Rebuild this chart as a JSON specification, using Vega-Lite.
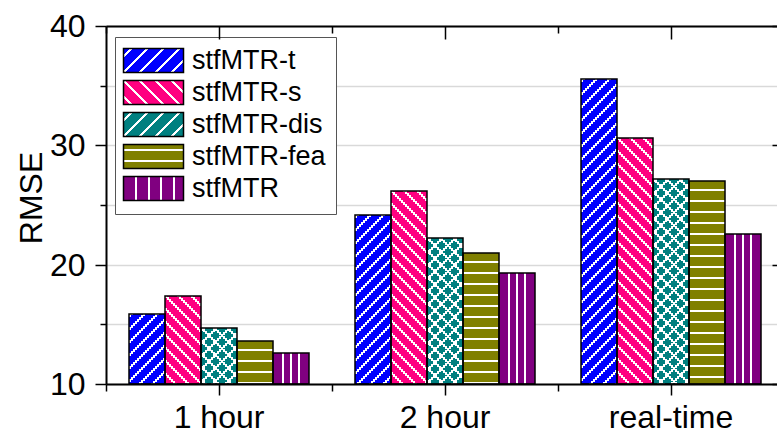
{
"$schema":"https://vega.github.io/schema/vega-lite/v6.json",
"width":671,"height":358,
"autosize":{"type":"none"},
"padding":{"left":106,"top":26,"right":0,"bottom":47},
"background":"#ffffff",
"config":{"view":{"stroke":null},"font":"Liberation Sans"},
"data":{"values":[
{"cat":"1 hour","model":"stfMTR-t","value":15.9},
{"cat":"1 hour","model":"stfMTR-s","value":17.4},
{"cat":"1 hour","model":"stfMTR-dis","value":14.7},
{"cat":"1 hour","model":"stfMTR-fea","value":13.6},
{"cat":"1 hour","model":"stfMTR","value":12.6},
{"cat":"2 hour","model":"stfMTR-t","value":24.2},
{"cat":"2 hour","model":"stfMTR-s","value":26.2},
{"cat":"2 hour","model":"stfMTR-dis","value":22.2},
{"cat":"2 hour","model":"stfMTR-fea","value":21.0},
{"cat":"2 hour","model":"stfMTR","value":19.3},
{"cat":"real-time","model":"stfMTR-t","value":35.6},
{"cat":"real-time","model":"stfMTR-s","value":30.6},
{"cat":"real-time","model":"stfMTR-dis","value":27.2},
{"cat":"real-time","model":"stfMTR-fea","value":27.0},
{"cat":"real-time","model":"stfMTR","value":22.6}
]},
"encoding":{
 "x":{"field":"cat","type":"nominal","scale":{"range":[0,678],"paddingInner":0,"paddingOuter":0,"round":true},"axis":null},
 "y":{"field":"value","type":"quantitative","scale":{"domain":[10,40],"zero":false,"nice":false,"round":true},"axis":null},
 "y2":{"datum":10}
},
"layer":[
{"mark":{"type":"bar"},
 "encoding":{
  "x":{"field":"cat","type":"nominal","axis":{"orient":"bottom","title":null,"labelAngle":0,"labelFontSize":32,"labelColor":"#000000","labelPadding":7,"tickSize":11,"tickWidth":1.5,"tickColor":"#000000","domainColor":"#000000","domainWidth":2,"grid":false,"zindex":1}},
  "y":{"field":"value","type":"quantitative","axis":{"orient":"left","values":[10,15,20,25,30,35,40],"title":"RMSE","titleFontSize":32,"titleFontWeight":"normal","titleColor":"#000000","titleX":-57.5,"titleY":171.5,"labelFontSize":32,"labelColor":"#000000","labelPadding":10,"labelExpr":"datum.value % 10 === 0 ? datum.label : ''","tickSize":{"condition":{"test":"datum.value % 10 !== 0","value":6},"value":11},"tickWidth":1.5,"tickColor":"#000000","domainColor":"#000000","domainWidth":2,"grid":false,"zindex":1}},
  "xOffset":{"field":"model","type":"nominal","scale":{"domain":["stfMTR-t","stfMTR-s","stfMTR-dis","stfMTR-fea","stfMTR"],"paddingInner":0,"paddingOuter":0.6,"align":0.5,"round":true}},
  "fill":{"field":"model","type":"nominal","scale":{"domain":["stfMTR","stfMTR-fea","stfMTR-dis","stfMTR-s","stfMTR-t"],"range":["#800080","#808000","#008080","#ff0080","#0000ff"]},"legend":null}
 }
},
{"transform":[{"filter":{"field":"model","oneOf":["stfMTR-t","stfMTR-dis"]}}],"mark":{"type":"rule","color":"#ffffff","strokeWidth":2,"strokeDash":[3,10],"strokeDashOffset":0},"encoding":{"xOffset":{"field":"model","type":"nominal","scale":{"domain":["stfMTR-t","stfMTR-s","stfMTR-dis","stfMTR-fea","stfMTR"],"paddingInner":0,"paddingOuter":0.6,"round":true,"align":0.130435}}}},
{"transform":[{"filter":{"field":"model","oneOf":["stfMTR-t","stfMTR-dis"]}}],"mark":{"type":"rule","color":"#ffffff","strokeWidth":2,"strokeDash":[3,10],"strokeDashOffset":2},"encoding":{"xOffset":{"field":"model","type":"nominal","scale":{"domain":["stfMTR-t","stfMTR-s","stfMTR-dis","stfMTR-fea","stfMTR"],"paddingInner":0,"paddingOuter":0.6,"round":true,"align":0.173913}}}},
{"transform":[{"filter":{"field":"model","oneOf":["stfMTR-t","stfMTR-dis"]}}],"mark":{"type":"rule","color":"#ffffff","strokeWidth":2,"strokeDash":[3,10],"strokeDashOffset":4},"encoding":{"xOffset":{"field":"model","type":"nominal","scale":{"domain":["stfMTR-t","stfMTR-s","stfMTR-dis","stfMTR-fea","stfMTR"],"paddingInner":0,"paddingOuter":0.6,"round":true,"align":0.217391}}}},
{"transform":[{"filter":{"field":"model","oneOf":["stfMTR-t","stfMTR-dis"]}}],"mark":{"type":"rule","color":"#ffffff","strokeWidth":2,"strokeDash":[3,10],"strokeDashOffset":6},"encoding":{"xOffset":{"field":"model","type":"nominal","scale":{"domain":["stfMTR-t","stfMTR-s","stfMTR-dis","stfMTR-fea","stfMTR"],"paddingInner":0,"paddingOuter":0.6,"round":true,"align":0.26087}}}},
{"transform":[{"filter":{"field":"model","oneOf":["stfMTR-t","stfMTR-dis"]}}],"mark":{"type":"rule","color":"#ffffff","strokeWidth":2,"strokeDash":[3,10],"strokeDashOffset":8},"encoding":{"xOffset":{"field":"model","type":"nominal","scale":{"domain":["stfMTR-t","stfMTR-s","stfMTR-dis","stfMTR-fea","stfMTR"],"paddingInner":0,"paddingOuter":0.6,"round":true,"align":0.304348}}}},
{"transform":[{"filter":{"field":"model","oneOf":["stfMTR-t","stfMTR-dis"]}}],"mark":{"type":"rule","color":"#ffffff","strokeWidth":2,"strokeDash":[3,10],"strokeDashOffset":10},"encoding":{"xOffset":{"field":"model","type":"nominal","scale":{"domain":["stfMTR-t","stfMTR-s","stfMTR-dis","stfMTR-fea","stfMTR"],"paddingInner":0,"paddingOuter":0.6,"round":true,"align":0.347826}}}},
{"transform":[{"filter":{"field":"model","oneOf":["stfMTR-t","stfMTR-dis"]}}],"mark":{"type":"rule","color":"#ffffff","strokeWidth":2,"strokeDash":[3,10],"strokeDashOffset":12},"encoding":{"xOffset":{"field":"model","type":"nominal","scale":{"domain":["stfMTR-t","stfMTR-s","stfMTR-dis","stfMTR-fea","stfMTR"],"paddingInner":0,"paddingOuter":0.6,"round":true,"align":0.391304}}}},
{"transform":[{"filter":{"field":"model","oneOf":["stfMTR-t","stfMTR-dis"]}}],"mark":{"type":"rule","color":"#ffffff","strokeWidth":2,"strokeDash":[3,10],"strokeDashOffset":14},"encoding":{"xOffset":{"field":"model","type":"nominal","scale":{"domain":["stfMTR-t","stfMTR-s","stfMTR-dis","stfMTR-fea","stfMTR"],"paddingInner":0,"paddingOuter":0.6,"round":true,"align":0.434783}}}},
{"transform":[{"filter":{"field":"model","oneOf":["stfMTR-t","stfMTR-dis"]}}],"mark":{"type":"rule","color":"#ffffff","strokeWidth":2,"strokeDash":[3,10],"strokeDashOffset":16},"encoding":{"xOffset":{"field":"model","type":"nominal","scale":{"domain":["stfMTR-t","stfMTR-s","stfMTR-dis","stfMTR-fea","stfMTR"],"paddingInner":0,"paddingOuter":0.6,"round":true,"align":0.478261}}}},
{"transform":[{"filter":{"field":"model","oneOf":["stfMTR-t","stfMTR-dis"]}}],"mark":{"type":"rule","color":"#ffffff","strokeWidth":2,"strokeDash":[3,10],"strokeDashOffset":18},"encoding":{"xOffset":{"field":"model","type":"nominal","scale":{"domain":["stfMTR-t","stfMTR-s","stfMTR-dis","stfMTR-fea","stfMTR"],"paddingInner":0,"paddingOuter":0.6,"round":true,"align":0.521739}}}},
{"transform":[{"filter":{"field":"model","oneOf":["stfMTR-t","stfMTR-dis"]}}],"mark":{"type":"rule","color":"#ffffff","strokeWidth":2,"strokeDash":[3,10],"strokeDashOffset":20},"encoding":{"xOffset":{"field":"model","type":"nominal","scale":{"domain":["stfMTR-t","stfMTR-s","stfMTR-dis","stfMTR-fea","stfMTR"],"paddingInner":0,"paddingOuter":0.6,"round":true,"align":0.565217}}}},
{"transform":[{"filter":{"field":"model","oneOf":["stfMTR-t","stfMTR-dis"]}}],"mark":{"type":"rule","color":"#ffffff","strokeWidth":2,"strokeDash":[3,10],"strokeDashOffset":22},"encoding":{"xOffset":{"field":"model","type":"nominal","scale":{"domain":["stfMTR-t","stfMTR-s","stfMTR-dis","stfMTR-fea","stfMTR"],"paddingInner":0,"paddingOuter":0.6,"round":true,"align":0.608696}}}},
{"transform":[{"filter":{"field":"model","oneOf":["stfMTR-t","stfMTR-dis"]}}],"mark":{"type":"rule","color":"#ffffff","strokeWidth":2,"strokeDash":[3,10],"strokeDashOffset":24},"encoding":{"xOffset":{"field":"model","type":"nominal","scale":{"domain":["stfMTR-t","stfMTR-s","stfMTR-dis","stfMTR-fea","stfMTR"],"paddingInner":0,"paddingOuter":0.6,"round":true,"align":0.652174}}}},
{"transform":[{"filter":{"field":"model","oneOf":["stfMTR-t","stfMTR-dis"]}}],"mark":{"type":"rule","color":"#ffffff","strokeWidth":2,"strokeDash":[3,10],"strokeDashOffset":26},"encoding":{"xOffset":{"field":"model","type":"nominal","scale":{"domain":["stfMTR-t","stfMTR-s","stfMTR-dis","stfMTR-fea","stfMTR"],"paddingInner":0,"paddingOuter":0.6,"round":true,"align":0.695652}}}},
{"transform":[{"filter":{"field":"model","oneOf":["stfMTR-t","stfMTR-dis"]}}],"mark":{"type":"rule","color":"#ffffff","strokeWidth":2,"strokeDash":[3,10],"strokeDashOffset":28},"encoding":{"xOffset":{"field":"model","type":"nominal","scale":{"domain":["stfMTR-t","stfMTR-s","stfMTR-dis","stfMTR-fea","stfMTR"],"paddingInner":0,"paddingOuter":0.6,"round":true,"align":0.73913}}}},
{"transform":[{"filter":{"field":"model","oneOf":["stfMTR-t","stfMTR-dis"]}}],"mark":{"type":"rule","color":"#ffffff","strokeWidth":2,"strokeDash":[3,10],"strokeDashOffset":30},"encoding":{"xOffset":{"field":"model","type":"nominal","scale":{"domain":["stfMTR-t","stfMTR-s","stfMTR-dis","stfMTR-fea","stfMTR"],"paddingInner":0,"paddingOuter":0.6,"round":true,"align":0.782609}}}},
{"transform":[{"filter":{"field":"model","oneOf":["stfMTR-t","stfMTR-dis"]}}],"mark":{"type":"rule","color":"#ffffff","strokeWidth":2,"strokeDash":[3,10],"strokeDashOffset":32},"encoding":{"xOffset":{"field":"model","type":"nominal","scale":{"domain":["stfMTR-t","stfMTR-s","stfMTR-dis","stfMTR-fea","stfMTR"],"paddingInner":0,"paddingOuter":0.6,"round":true,"align":0.826087}}}},
{"transform":[{"filter":{"field":"model","oneOf":["stfMTR-t","stfMTR-dis"]}}],"mark":{"type":"rule","color":"#ffffff","strokeWidth":2,"strokeDash":[3,10],"strokeDashOffset":34},"encoding":{"xOffset":{"field":"model","type":"nominal","scale":{"domain":["stfMTR-t","stfMTR-s","stfMTR-dis","stfMTR-fea","stfMTR"],"paddingInner":0,"paddingOuter":0.6,"round":true,"align":0.869565}}}},
{"transform":[{"filter":{"field":"model","oneOf":["stfMTR-s","stfMTR-dis"]}}],"mark":{"type":"rule","color":"#ffffff","strokeWidth":2,"strokeDash":[3,10],"strokeDashOffset":40},"encoding":{"xOffset":{"field":"model","type":"nominal","scale":{"domain":["stfMTR-t","stfMTR-s","stfMTR-dis","stfMTR-fea","stfMTR"],"paddingInner":0,"paddingOuter":0.6,"round":true,"align":0.130435}}}},
{"transform":[{"filter":{"field":"model","oneOf":["stfMTR-s","stfMTR-dis"]}}],"mark":{"type":"rule","color":"#ffffff","strokeWidth":2,"strokeDash":[3,10],"strokeDashOffset":38},"encoding":{"xOffset":{"field":"model","type":"nominal","scale":{"domain":["stfMTR-t","stfMTR-s","stfMTR-dis","stfMTR-fea","stfMTR"],"paddingInner":0,"paddingOuter":0.6,"round":true,"align":0.173913}}}},
{"transform":[{"filter":{"field":"model","oneOf":["stfMTR-s","stfMTR-dis"]}}],"mark":{"type":"rule","color":"#ffffff","strokeWidth":2,"strokeDash":[3,10],"strokeDashOffset":36},"encoding":{"xOffset":{"field":"model","type":"nominal","scale":{"domain":["stfMTR-t","stfMTR-s","stfMTR-dis","stfMTR-fea","stfMTR"],"paddingInner":0,"paddingOuter":0.6,"round":true,"align":0.217391}}}},
{"transform":[{"filter":{"field":"model","oneOf":["stfMTR-s","stfMTR-dis"]}}],"mark":{"type":"rule","color":"#ffffff","strokeWidth":2,"strokeDash":[3,10],"strokeDashOffset":34},"encoding":{"xOffset":{"field":"model","type":"nominal","scale":{"domain":["stfMTR-t","stfMTR-s","stfMTR-dis","stfMTR-fea","stfMTR"],"paddingInner":0,"paddingOuter":0.6,"round":true,"align":0.26087}}}},
{"transform":[{"filter":{"field":"model","oneOf":["stfMTR-s","stfMTR-dis"]}}],"mark":{"type":"rule","color":"#ffffff","strokeWidth":2,"strokeDash":[3,10],"strokeDashOffset":32},"encoding":{"xOffset":{"field":"model","type":"nominal","scale":{"domain":["stfMTR-t","stfMTR-s","stfMTR-dis","stfMTR-fea","stfMTR"],"paddingInner":0,"paddingOuter":0.6,"round":true,"align":0.304348}}}},
{"transform":[{"filter":{"field":"model","oneOf":["stfMTR-s","stfMTR-dis"]}}],"mark":{"type":"rule","color":"#ffffff","strokeWidth":2,"strokeDash":[3,10],"strokeDashOffset":30},"encoding":{"xOffset":{"field":"model","type":"nominal","scale":{"domain":["stfMTR-t","stfMTR-s","stfMTR-dis","stfMTR-fea","stfMTR"],"paddingInner":0,"paddingOuter":0.6,"round":true,"align":0.347826}}}},
{"transform":[{"filter":{"field":"model","oneOf":["stfMTR-s","stfMTR-dis"]}}],"mark":{"type":"rule","color":"#ffffff","strokeWidth":2,"strokeDash":[3,10],"strokeDashOffset":28},"encoding":{"xOffset":{"field":"model","type":"nominal","scale":{"domain":["stfMTR-t","stfMTR-s","stfMTR-dis","stfMTR-fea","stfMTR"],"paddingInner":0,"paddingOuter":0.6,"round":true,"align":0.391304}}}},
{"transform":[{"filter":{"field":"model","oneOf":["stfMTR-s","stfMTR-dis"]}}],"mark":{"type":"rule","color":"#ffffff","strokeWidth":2,"strokeDash":[3,10],"strokeDashOffset":26},"encoding":{"xOffset":{"field":"model","type":"nominal","scale":{"domain":["stfMTR-t","stfMTR-s","stfMTR-dis","stfMTR-fea","stfMTR"],"paddingInner":0,"paddingOuter":0.6,"round":true,"align":0.434783}}}},
{"transform":[{"filter":{"field":"model","oneOf":["stfMTR-s","stfMTR-dis"]}}],"mark":{"type":"rule","color":"#ffffff","strokeWidth":2,"strokeDash":[3,10],"strokeDashOffset":24},"encoding":{"xOffset":{"field":"model","type":"nominal","scale":{"domain":["stfMTR-t","stfMTR-s","stfMTR-dis","stfMTR-fea","stfMTR"],"paddingInner":0,"paddingOuter":0.6,"round":true,"align":0.478261}}}},
{"transform":[{"filter":{"field":"model","oneOf":["stfMTR-s","stfMTR-dis"]}}],"mark":{"type":"rule","color":"#ffffff","strokeWidth":2,"strokeDash":[3,10],"strokeDashOffset":22},"encoding":{"xOffset":{"field":"model","type":"nominal","scale":{"domain":["stfMTR-t","stfMTR-s","stfMTR-dis","stfMTR-fea","stfMTR"],"paddingInner":0,"paddingOuter":0.6,"round":true,"align":0.521739}}}},
{"transform":[{"filter":{"field":"model","oneOf":["stfMTR-s","stfMTR-dis"]}}],"mark":{"type":"rule","color":"#ffffff","strokeWidth":2,"strokeDash":[3,10],"strokeDashOffset":20},"encoding":{"xOffset":{"field":"model","type":"nominal","scale":{"domain":["stfMTR-t","stfMTR-s","stfMTR-dis","stfMTR-fea","stfMTR"],"paddingInner":0,"paddingOuter":0.6,"round":true,"align":0.565217}}}},
{"transform":[{"filter":{"field":"model","oneOf":["stfMTR-s","stfMTR-dis"]}}],"mark":{"type":"rule","color":"#ffffff","strokeWidth":2,"strokeDash":[3,10],"strokeDashOffset":18},"encoding":{"xOffset":{"field":"model","type":"nominal","scale":{"domain":["stfMTR-t","stfMTR-s","stfMTR-dis","stfMTR-fea","stfMTR"],"paddingInner":0,"paddingOuter":0.6,"round":true,"align":0.608696}}}},
{"transform":[{"filter":{"field":"model","oneOf":["stfMTR-s","stfMTR-dis"]}}],"mark":{"type":"rule","color":"#ffffff","strokeWidth":2,"strokeDash":[3,10],"strokeDashOffset":16},"encoding":{"xOffset":{"field":"model","type":"nominal","scale":{"domain":["stfMTR-t","stfMTR-s","stfMTR-dis","stfMTR-fea","stfMTR"],"paddingInner":0,"paddingOuter":0.6,"round":true,"align":0.652174}}}},
{"transform":[{"filter":{"field":"model","oneOf":["stfMTR-s","stfMTR-dis"]}}],"mark":{"type":"rule","color":"#ffffff","strokeWidth":2,"strokeDash":[3,10],"strokeDashOffset":14},"encoding":{"xOffset":{"field":"model","type":"nominal","scale":{"domain":["stfMTR-t","stfMTR-s","stfMTR-dis","stfMTR-fea","stfMTR"],"paddingInner":0,"paddingOuter":0.6,"round":true,"align":0.695652}}}},
{"transform":[{"filter":{"field":"model","oneOf":["stfMTR-s","stfMTR-dis"]}}],"mark":{"type":"rule","color":"#ffffff","strokeWidth":2,"strokeDash":[3,10],"strokeDashOffset":12},"encoding":{"xOffset":{"field":"model","type":"nominal","scale":{"domain":["stfMTR-t","stfMTR-s","stfMTR-dis","stfMTR-fea","stfMTR"],"paddingInner":0,"paddingOuter":0.6,"round":true,"align":0.73913}}}},
{"transform":[{"filter":{"field":"model","oneOf":["stfMTR-s","stfMTR-dis"]}}],"mark":{"type":"rule","color":"#ffffff","strokeWidth":2,"strokeDash":[3,10],"strokeDashOffset":10},"encoding":{"xOffset":{"field":"model","type":"nominal","scale":{"domain":["stfMTR-t","stfMTR-s","stfMTR-dis","stfMTR-fea","stfMTR"],"paddingInner":0,"paddingOuter":0.6,"round":true,"align":0.782609}}}},
{"transform":[{"filter":{"field":"model","oneOf":["stfMTR-s","stfMTR-dis"]}}],"mark":{"type":"rule","color":"#ffffff","strokeWidth":2,"strokeDash":[3,10],"strokeDashOffset":8},"encoding":{"xOffset":{"field":"model","type":"nominal","scale":{"domain":["stfMTR-t","stfMTR-s","stfMTR-dis","stfMTR-fea","stfMTR"],"paddingInner":0,"paddingOuter":0.6,"round":true,"align":0.826087}}}},
{"transform":[{"filter":{"field":"model","oneOf":["stfMTR-s","stfMTR-dis"]}}],"mark":{"type":"rule","color":"#ffffff","strokeWidth":2,"strokeDash":[3,10],"strokeDashOffset":6},"encoding":{"xOffset":{"field":"model","type":"nominal","scale":{"domain":["stfMTR-t","stfMTR-s","stfMTR-dis","stfMTR-fea","stfMTR"],"paddingInner":0,"paddingOuter":0.6,"round":true,"align":0.869565}}}},
{"transform":[{"filter":{"field":"model","equal":"stfMTR-fea"}}],"mark":{"type":"rule","color":"#ffffff","strokeWidth":36,"strokeDash":[2,9],"strokeDashOffset":3},
 "encoding":{
  "x":{"field":"cat","type":"nominal","axis":{"orient":"bottom","tickBand":"extent","title":null,"labels":false,"domain":false,"tickSize":7,"tickWidth":1.5,"tickColor":"#000000","grid":false,"zindex":1}},
  "y":{"field":"value","type":"quantitative","axis":{"orient":"left","values":[10,15,20,25,30,35,40],"title":null,"labels":false,"ticks":false,"domain":false,"grid":true,"gridColor":"#d9d9d9","gridWidth":1.5,"zindex":0}},
  "xOffset":{"field":"model","type":"nominal","scale":{"domain":["stfMTR-t","stfMTR-s","stfMTR-dis","stfMTR-fea","stfMTR"],"paddingInner":0,"paddingOuter":0.6,"round":true,"align":0.5}}}},
{"transform":[{"filter":{"field":"model","equal":"stfMTR"}}],"mark":{"type":"rule","color":"#ffffff","strokeWidth":2},
 "encoding":{
  "x":{"field":"cat","type":"nominal","axis":{"orient":"top","tickBand":"extent","title":null,"labels":false,"domain":false,"tickSize":-7,"tickWidth":1.5,"tickColor":"#000000","grid":false,"zindex":1}},
  "xOffset":{"field":"model","type":"nominal","scale":{"domain":["stfMTR-t","stfMTR-s","stfMTR-dis","stfMTR-fea","stfMTR"],"paddingInner":0,"paddingOuter":0.6,"round":true,"align":0.326087}}}},
{"transform":[{"filter":{"field":"model","equal":"stfMTR"}}],"mark":{"type":"rule","color":"#ffffff","strokeWidth":2},
 "encoding":{"xOffset":{"field":"model","type":"nominal","scale":{"domain":["stfMTR-t","stfMTR-s","stfMTR-dis","stfMTR-fea","stfMTR"],"paddingInner":0,"paddingOuter":0.6,"round":true,"align":0.5}}}},
{"transform":[{"filter":{"field":"model","equal":"stfMTR"}}],"mark":{"type":"rule","color":"#ffffff","strokeWidth":2},
 "encoding":{"xOffset":{"field":"model","type":"nominal","scale":{"domain":["stfMTR-t","stfMTR-s","stfMTR-dis","stfMTR-fea","stfMTR"],"paddingInner":0,"paddingOuter":0.6,"round":true,"align":0.673913}}}},
{"mark":{"type":"bar","fillOpacity":0,"stroke":"#000000","strokeWidth":1.5},
 "encoding":{
  "x":{"field":"cat","type":"nominal","axis":{"orient":"top","title":null,"labels":false,"tickSize":-13,"tickWidth":1.5,"tickColor":"#000000","domainColor":"#000000","domainWidth":2,"grid":false,"zindex":1}},
  "y":{"field":"value","type":"quantitative","axis":{"orient":"right","offset":7,"values":[10,15,20,25,30,35,40],"title":null,"labels":false,"tickSize":{"condition":{"test":"datum.value % 10 !== 0","value":-6},"value":-12},"tickWidth":1.5,"tickColor":"#000000","domainColor":"#000000","domainWidth":2,"grid":false,"zindex":1}},
  "xOffset":{"field":"model","type":"nominal","scale":{"domain":["stfMTR-t","stfMTR-s","stfMTR-dis","stfMTR-fea","stfMTR"],"paddingInner":0,"paddingOuter":0.6,"round":true,"align":0.5}}}},
{"transform":[{"filter":"false"}],"mark":{"type":"bar"},
 "encoding":{
  "xOffset":{"field":"model","type":"nominal","scale":{"domain":["stfMTR-t","stfMTR-s","stfMTR-dis","stfMTR-fea","stfMTR"],"paddingInner":0,"paddingOuter":0.6,"round":true,"align":0.5}},
  "fill":{"field":"model","type":"nominal","scale":{"domain":["stfMTR-t","stfMTR-s","stfMTR-dis","stfMTR-fea","stfMTR"],"range":[
     {"expr":"{gradient:'linear',x1:0,y1:0,x2:1.2069,y2:0.4828,stops:[{offset:0.0774,color:'#0000ff'},{offset:0.0774,color:'#ffffff'},{offset:0.1131,color:'#ffffff'},{offset:0.1131,color:'#0000ff'},{offset:0.2679,color:'#0000ff'},{offset:0.2679,color:'#ffffff'},{offset:0.3036,color:'#ffffff'},{offset:0.3036,color:'#0000ff'},{offset:0.4583,color:'#0000ff'},{offset:0.4583,color:'#ffffff'},{offset:0.494,color:'#ffffff'},{offset:0.494,color:'#0000ff'},{offset:0.6488,color:'#0000ff'},{offset:0.6488,color:'#ffffff'},{offset:0.6845,color:'#ffffff'},{offset:0.6845,color:'#0000ff'},{offset:0.8393,color:'#0000ff'},{offset:0.8393,color:'#ffffff'},{offset:0.875,color:'#ffffff'},{offset:0.875,color:'#0000ff'}]}"},
     {"expr":"{gradient:'linear',x1:0,y1:1,x2:1.2069,y2:0.5172,stops:[{offset:0.0774,color:'#ff0080'},{offset:0.0774,color:'#ffffff'},{offset:0.1131,color:'#ffffff'},{offset:0.1131,color:'#ff0080'},{offset:0.2679,color:'#ff0080'},{offset:0.2679,color:'#ffffff'},{offset:0.3036,color:'#ffffff'},{offset:0.3036,color:'#ff0080'},{offset:0.4583,color:'#ff0080'},{offset:0.4583,color:'#ffffff'},{offset:0.494,color:'#ffffff'},{offset:0.494,color:'#ff0080'},{offset:0.6488,color:'#ff0080'},{offset:0.6488,color:'#ffffff'},{offset:0.6845,color:'#ffffff'},{offset:0.6845,color:'#ff0080'},{offset:0.8393,color:'#ff0080'},{offset:0.8393,color:'#ffffff'},{offset:0.875,color:'#ffffff'},{offset:0.875,color:'#ff0080'}]}"},
     {"expr":"{gradient:'linear',x1:0,y1:0,x2:1.2069,y2:0.4828,stops:[{offset:0.0774,color:'#008080'},{offset:0.0774,color:'#ffffff'},{offset:0.1131,color:'#ffffff'},{offset:0.1131,color:'#008080'},{offset:0.2679,color:'#008080'},{offset:0.2679,color:'#ffffff'},{offset:0.3036,color:'#ffffff'},{offset:0.3036,color:'#008080'},{offset:0.4583,color:'#008080'},{offset:0.4583,color:'#ffffff'},{offset:0.494,color:'#ffffff'},{offset:0.494,color:'#008080'},{offset:0.6488,color:'#008080'},{offset:0.6488,color:'#ffffff'},{offset:0.6845,color:'#ffffff'},{offset:0.6845,color:'#008080'},{offset:0.8393,color:'#008080'},{offset:0.8393,color:'#ffffff'},{offset:0.875,color:'#ffffff'},{offset:0.875,color:'#008080'}]}"},
     {"expr":"{gradient:'linear',x1:0,y1:0,x2:0,y2:1,stops:[{offset:0.2,color:'#808000'},{offset:0.2,color:'#ffffff'},{offset:0.283,color:'#ffffff'},{offset:0.283,color:'#808000'},{offset:0.65,color:'#808000'},{offset:0.65,color:'#ffffff'},{offset:0.733,color:'#ffffff'},{offset:0.733,color:'#808000'}]}"},
     {"expr":"{gradient:'linear',x1:0,y1:0,x2:1,y2:0,stops:[{offset:0.193,color:'#800080'},{offset:0.193,color:'#ffffff'},{offset:0.227,color:'#ffffff'},{offset:0.227,color:'#800080'},{offset:0.403,color:'#800080'},{offset:0.403,color:'#ffffff'},{offset:0.437,color:'#ffffff'},{offset:0.437,color:'#800080'},{offset:0.613,color:'#800080'},{offset:0.613,color:'#ffffff'},{offset:0.647,color:'#ffffff'},{offset:0.647,color:'#800080'},{offset:0.823,color:'#800080'},{offset:0.823,color:'#ffffff'},{offset:0.857,color:'#ffffff'},{offset:0.857,color:'#800080'}]}"}
   ]},
   "legend":{"orient":"none","legendX":9,"legendY":11,"title":null,"direction":"vertical","symbolType":"M-2.5,-1H2.5V1H-2.5Z","symbolSize":576,"symbolOffset":15,"symbolStrokeColor":"#000000","symbolStrokeWidth":1.5,"symbolOpacity":1,"labelFontSize":27,"labelColor":"#000000","labelOffset":25,"labelLimit":400,"rowPadding":1,"padding":10,"strokeColor":"#555555","fillColor":"#ffffff"}}
 }
}
],
"resolve":{"scale":{"xOffset":"independent","fill":"independent"},"axis":{"x":"independent","y":"independent"}}
}
